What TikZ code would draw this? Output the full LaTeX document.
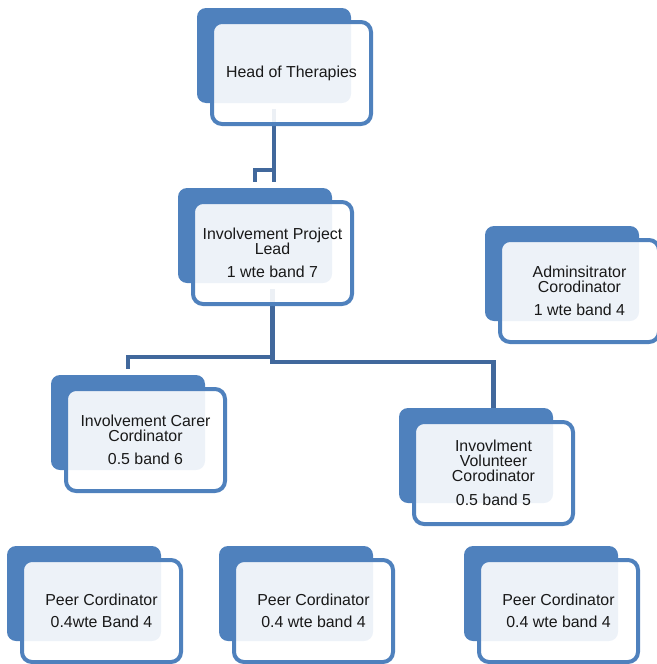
\documentclass[tikz,border=0pt]{standalone}
\usepackage{fontspec}
\setmainfont{Liberation Sans}
\usepackage{tikz}
\usetikzlibrary{positioning, backgrounds}

\definecolor{boxblue}{HTML}{4F81BD}
\definecolor{linkblue}{HTML}{41689C}

\begin{document}
\begin{tikzpicture}[
        x=1pt, y=-1pt,
        back/.style={rectangle, rounded corners=9pt, fill=boxblue, minimum width=154pt, minimum height=95pt, inner sep=0pt, outer sep=0pt, anchor=north west},
        front/.style={rectangle, rounded corners=10pt, draw=boxblue, line width=4pt, fill=white, fill opacity=0.9, text opacity=1, minimum width=159pt, minimum height=102pt, inner sep=2pt, outer sep=0pt, align=center, text=black!90, font=\fontsize{15.9}{15}\selectfont},
        link/.style={draw=linkblue, line width=4.5pt},
    ]
        \useasboundingbox (0,0) rectangle (656,664);

        % Back cards
        \node[back] (hd-b) at (197,8) {};
        \node[back] (ipl-b) at (178,188) {};
        \node[back] (adm-b) at (485,226) {};
        \node[back] (carer-b) at (51,375) {};
        \node[back] (vol-b) at (399,408) {};
        \node[back] (peer1-b) at (7,546) {};
        \node[back] (peer2-b) at (219,546) {};
        \node[back] (peer3-b) at (464,546) {};

        % Front cards
        \node[front, below right=14pt and 15pt of hd-b.north west] (hd) {Head of Therapies};
        \node[front, below right=14pt and 15pt of ipl-b.north west] (ipl) {Involvement Project\\Lead\\[8.5pt]1 wte band 7};
        \node[front, below right=14pt and 15pt of adm-b.north west] (adm) {Adminsitrator\\Corodinator\\[8.5pt]1 wte band 4};
        \node[front, below right=14pt and 15pt of carer-b.north west] (carer) {Involvement Carer\\Cordinator\\[8pt]0.5 band 6};
        \node[front, below right=14pt and 15pt of vol-b.north west] (vol) {Invovlment\\Volunteer\\Corodinator\\[9pt]0.5 band 5};
        \node[front, below right=14pt and 15pt of peer1-b.north west] (peer1) {Peer Cordinator\\[7pt]0.4wte Band 4};
        \node[front, below right=14pt and 15pt of peer2-b.north west] (peer2) {Peer Cordinator\\[7pt]0.4 wte band 4};
        \node[front, below right=14pt and 15pt of peer3-b.north west] (peer3) {Peer Cordinator\\[7pt]0.4 wte band 4};

        % Connectors (behind the cards)
        \begin{pgfonlayer}{background}
            \draw[link, shorten <=6pt, shorten >=6pt] (hd-b.south) -- (hd-b.south |- ipl-b.north);
            \draw[link, shorten >=6pt] ([yshift=18pt]hd-b.south |- ipl-b.north) -| (ipl-b.north);
            \draw[link, shorten <=6pt, shorten >=6pt] (ipl.south |- ipl-b.south) |- ([yshift=18pt]carer-b.north) -| (carer-b.north);
            \draw[link, shorten <=6pt] (ipl.south |- ipl-b.south) |- ([yshift=46pt]vol.north |- vol-b.north) -- (vol.north |- vol-b.north);
        \end{pgfonlayer}
    \end{tikzpicture}
\end{document}
